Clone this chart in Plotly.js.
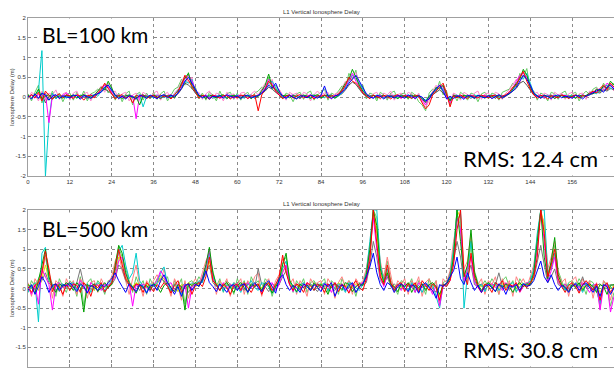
<!DOCTYPE html>
<html>
<head>
<meta charset="utf-8">
<script src="https://cdn.plot.ly/plotly-3.0.1.min.js"></script>
<style>
html,body{margin:0;padding:0;background:#fff;}
#chart{width:614px;height:369px;}
</style>
</head>
<body>
<div id="chart"></div>
<script>
// Time axis (hours)
const hours = [0,1,2,3,4,5,6,7,8,9,10,11,12,13,14,15,16,17,18,19,20,21,22,23,24,25,26,27,28,29,30,31,32,33,34,35,36,37,38,39,40,41,42,43,44,45,46,47,48,49,50,51,52,53,54,55,56,57,58,59,60,61,62,63,64,65,66,67,68,69,70,71,72,73,74,75,76,77,78,79,80,81,82,83,84,85,86,87,88,89,90,91,92,93,94,95,96,97,98,99,100,101,102,103,104,105,106,107,108,109,110,111,112,113,114,115,116,117,118,119,120,121,122,123,124,125,126,127,128,129,130,131,132,133,134,135,136,137,138,139,140,141,142,143,144,145,146,147,148,149,150,151,152,153,154,155,156,157,158,159,160,161,162,163,164,165,166,167,168];

const xTicks = [0,12,24,36,48,60,72,84,96,108,120,132,144,156];
const yTickVals = [2,1.5,1,0.5,0,-0.5,-1,-1.5,-2];
const yTickText = ["2","1.5","1","0.5","0","-0.5","-1","-1.5","-2"];

// ---- BL = 100 km series (m) ----
const top_blue = [
0.02,-0.05,0.08,-0.03,0.10,0.05,-0.08,0.02,0.06,-0.04,0.03,0.00,
-0.02,0.05,0.03,-0.06,0.04,0.01,-0.03,0.05,0.08,0.12,0.25,0.30,
0.18,0.05,-0.04,0.02,-0.05,0.03,0.01,-0.06,0.04,0.02,-0.03,0.05,
0.00,-0.04,0.03,0.06,-0.02,0.04,0.01,0.10,0.22,0.40,0.50,0.35,
0.20,0.05,-0.02,0.03,-0.05,0.02,0.00,0.04,-0.03,0.06,0.02,-0.01,
0.03,-0.04,0.02,0.05,-0.02,0.01,0.04,0.10,0.18,0.30,0.22,0.35,
0.15,0.02,-0.03,0.04,0.00,-0.05,0.03,0.02,-0.02,0.05,0.01,-0.03,
0.04,0.28,0.02,-0.04,0.03,0.05,0.12,0.20,0.35,0.45,0.55,0.40,
0.25,0.08,0.00,-0.03,0.04,0.02,-0.05,0.03,0.01,-0.02,0.04,0.00,
-0.03,0.05,0.02,-0.04,0.03,0.00,-0.10,-0.05,0.10,0.20,0.30,0.15,
-0.05,0.02,-0.04,0.03,0.01,-0.06,0.04,0.02,-0.03,0.05,0.00,-0.02,
0.03,-0.04,0.02,0.06,-0.02,0.04,0.10,0.15,0.25,0.40,0.55,0.45,
0.30,0.10,0.02,-0.03,0.04,0.01,-0.04,0.03,0.05,-0.02,0.02,0.00,
-0.03,0.04,0.02,-0.05,0.03,0.06,0.10,0.15,0.20,0.12,0.25,0.30,
0.20];
const top_red = [
-0.03,0.06,-0.02,0.12,-0.10,0.15,0.04,-0.06,0.03,0.08,-0.02,0.05,
0.03,-0.04,0.06,0.02,-0.08,0.03,0.05,-0.02,0.10,0.20,0.35,0.22,
0.10,-0.05,0.03,0.06,-0.03,0.02,-0.15,0.04,0.01,0.05,-0.04,0.02,
0.04,-0.02,0.05,0.00,0.03,-0.05,0.06,0.15,0.30,0.55,0.42,0.25,
0.12,-0.03,0.04,0.02,-0.06,0.05,0.01,-0.02,0.04,0.03,-0.05,0.02,
-0.02,0.05,0.03,-0.04,0.02,0.06,-0.35,0.05,0.20,0.40,0.30,0.15,
0.05,-0.04,0.02,0.05,-0.03,0.03,0.06,-0.02,0.01,0.04,-0.05,0.03,
0.02,0.05,-0.03,0.04,0.01,0.08,0.15,0.30,0.50,0.40,0.35,0.25,
0.10,0.02,-0.04,0.05,0.01,-0.03,0.04,0.02,-0.05,0.03,0.06,-0.02,
0.04,0.01,-0.03,0.05,0.02,-0.15,-0.30,-0.20,0.05,0.15,0.25,0.35,
0.10,-0.25,0.03,-0.02,0.05,0.01,-0.04,0.03,0.02,-0.03,0.05,0.01,
-0.02,0.04,0.03,-0.05,0.02,0.06,0.12,0.25,0.30,0.50,0.65,0.40,
0.20,0.05,-0.03,0.04,0.02,-0.05,0.03,0.01,-0.02,0.05,0.03,-0.04,
0.02,0.05,-0.03,0.04,0.01,0.08,0.15,0.10,0.22,0.30,0.18,0.35,
0.25];
const top_green = [
0.05,-0.02,0.04,0.20,-0.05,0.02,0.06,-0.04,0.03,0.01,-0.03,0.04,
0.02,0.05,-0.03,0.03,0.06,-0.02,0.02,0.04,0.15,0.25,0.18,0.40,
0.22,0.04,0.02,-0.04,0.03,0.05,-0.02,0.01,-0.20,0.04,0.02,-0.03,
0.05,0.01,-0.04,0.03,0.02,0.05,-0.03,0.12,0.35,0.48,0.60,0.30,
0.15,0.02,0.04,-0.03,0.05,0.01,-0.02,0.03,0.06,-0.04,0.02,0.04,
0.01,-0.03,0.05,0.02,-0.04,0.03,0.02,0.15,0.30,0.58,0.25,0.20,
0.10,0.03,0.05,-0.02,0.04,0.01,-0.03,0.05,0.02,-0.04,0.03,0.06,
-0.02,0.03,0.05,0.01,-0.03,0.04,0.20,0.35,0.45,0.70,0.50,0.30,
0.15,0.05,0.02,0.04,-0.03,0.02,0.05,-0.02,0.03,0.01,-0.04,0.03,
0.02,-0.03,0.05,0.01,0.03,-0.04,-0.12,0.02,0.08,0.25,0.20,0.30,
0.05,-0.10,0.04,0.02,-0.03,0.05,0.01,0.03,-0.02,0.04,0.02,-0.03,
0.04,0.02,-0.03,0.05,0.01,0.03,0.08,0.20,0.35,0.45,0.70,0.55,
0.25,0.08,0.03,-0.02,0.05,0.01,0.03,-0.04,0.02,0.04,-0.02,0.03,
0.01,-0.03,0.05,0.02,0.04,0.10,0.08,0.20,0.15,0.28,0.22,0.40,
0.30];
const top_cyan = [
0.03,-0.04,0.05,0.15,1.20,-2.00,-0.60,0.10,-0.05,0.04,0.02,-0.03,
0.02,0.04,-0.02,0.05,0.01,-0.04,0.03,0.06,0.02,0.15,0.22,0.30,
0.15,0.02,-0.03,0.04,0.01,0.05,-0.02,0.03,0.06,-0.25,0.02,0.04,
-0.03,0.05,0.02,-0.02,0.04,0.01,0.06,0.18,0.25,0.40,0.35,0.45,
0.10,0.04,-0.02,0.05,0.02,-0.03,0.04,0.01,0.03,-0.05,0.04,0.02,
0.05,0.01,-0.03,0.04,0.02,-0.02,0.05,0.10,0.22,0.35,0.40,0.25,
0.08,0.02,-0.04,0.03,0.05,0.01,-0.02,0.04,0.03,-0.03,0.05,0.02,
0.03,-0.02,0.04,0.05,-0.03,0.02,0.10,0.25,0.40,0.55,0.45,0.35,
0.20,0.04,0.01,-0.03,0.05,0.03,-0.02,0.04,0.01,0.05,-0.03,0.02,
0.03,0.05,-0.02,0.04,0.01,-0.05,-0.08,0.03,0.12,0.18,0.25,0.20,
0.02,-0.05,0.03,0.05,-0.02,0.04,0.01,-0.03,0.05,0.02,0.04,-0.02,
0.03,0.05,0.01,-0.03,0.04,0.02,0.10,0.18,0.30,0.50,0.45,0.60,
0.35,0.10,0.04,0.01,-0.03,0.05,0.02,0.04,-0.02,0.03,0.05,0.01,
0.04,-0.02,0.03,0.05,0.02,0.06,0.12,0.08,0.18,0.25,0.30,0.20,
0.28];
const top_magenta = [
0.01,0.04,-0.03,0.06,0.02,0.08,-0.65,0.03,0.05,-0.02,0.04,0.10,
0.03,-0.02,0.05,0.01,0.04,-0.03,0.06,0.02,0.10,0.18,0.30,0.25,
0.12,0.03,0.05,-0.02,0.04,0.02,0.03,-0.55,0.05,0.01,0.04,-0.02,
0.03,0.05,-0.03,0.02,0.04,0.06,-0.02,0.10,0.30,0.45,0.55,0.40,
0.18,0.03,0.01,0.05,-0.02,0.04,0.03,-0.04,0.02,0.05,0.01,-0.03,
0.04,0.02,0.05,-0.03,0.03,0.01,0.05,0.12,0.25,0.45,0.35,0.18,
0.06,0.04,-0.02,0.03,0.05,0.01,-0.04,0.03,0.02,0.06,-0.02,0.04,
0.01,0.05,0.03,-0.02,0.04,0.06,0.15,0.28,0.42,0.60,0.40,0.28,
0.12,0.03,0.05,-0.02,0.02,0.04,0.01,-0.03,0.05,0.02,0.03,-0.04,
0.05,0.02,0.03,-0.02,0.04,-0.08,-0.20,0.01,0.10,0.22,0.30,0.25,
0.00,-0.15,0.05,0.02,0.04,-0.03,0.03,0.05,0.01,-0.02,0.04,0.03,
0.02,0.04,-0.03,0.05,0.03,0.01,0.14,0.22,0.40,0.55,0.60,0.50,
0.28,0.06,0.02,0.05,-0.03,0.03,0.04,0.01,-0.02,0.05,0.03,0.02,
-0.02,0.04,0.03,0.05,0.01,0.10,0.12,0.18,0.15,0.22,0.35,0.28,
0.22];
const top_gray = [
-0.02,0.05,0.03,-0.04,0.08,-0.15,0.02,0.06,-0.03,0.04,0.01,0.05,
-0.03,0.02,0.04,-0.02,0.05,0.03,-0.04,0.02,0.06,0.12,0.20,0.15,
0.08,-0.02,0.04,0.01,-0.03,0.05,0.02,-0.04,0.03,0.06,-0.02,0.01,
0.04,-0.03,0.02,0.05,0.01,-0.02,0.04,0.08,0.20,0.35,0.30,0.22,
0.10,0.01,0.03,-0.04,0.02,0.05,-0.02,0.03,0.01,0.04,-0.03,0.05,
0.02,0.04,-0.02,0.03,0.05,-0.03,0.02,0.08,0.15,0.25,0.20,0.12,
0.04,-0.02,0.03,0.05,0.01,-0.04,0.02,0.04,-0.02,0.03,0.05,0.01,
-0.03,0.04,0.02,0.05,-0.02,0.03,0.08,0.18,0.30,0.38,0.32,0.20,
0.08,0.02,-0.03,0.04,0.01,0.05,-0.02,0.03,0.04,-0.03,0.02,0.05,
0.01,0.03,-0.04,0.02,0.05,-0.06,-0.15,-0.04,0.06,0.12,0.18,0.10,
0.02,-0.08,0.04,0.01,0.03,-0.02,0.05,0.02,-0.04,0.03,0.01,0.04,
-0.02,0.03,0.05,0.01,-0.03,0.04,0.08,0.15,0.22,0.35,0.40,0.30,
0.18,0.05,0.01,0.04,-0.02,0.03,0.05,-0.03,0.02,0.04,0.01,-0.02,
0.03,0.05,-0.02,0.04,0.02,0.06,0.08,0.12,0.10,0.18,0.15,0.22,
0.18];
const top_lightgreen = [
0.08,-0.10,0.12,0.30,-0.15,0.10,-0.08,0.15,-0.05,0.10,-0.12,0.06,
0.10,-0.08,0.12,-0.05,0.15,-0.10,0.08,0.12,0.20,0.15,0.32,0.10,
0.25,-0.08,0.10,-0.12,0.08,0.15,-0.20,0.06,0.12,-0.08,0.10,-0.05,
0.12,-0.06,0.08,0.15,-0.10,0.05,0.20,0.25,0.45,0.30,0.62,0.20,
0.25,-0.05,0.10,-0.08,0.12,0.05,-0.10,0.15,-0.04,0.08,0.12,-0.06,
0.10,-0.08,0.06,0.12,-0.05,0.10,0.15,0.25,0.18,0.50,0.20,0.30,
0.12,-0.05,0.10,0.05,-0.12,0.08,0.12,-0.06,0.10,0.15,-0.08,0.05,
0.12,0.20,-0.08,0.10,0.05,0.15,0.28,0.22,0.60,0.45,0.68,0.20,
0.30,-0.05,0.10,0.06,-0.10,0.12,0.05,-0.08,0.10,0.15,-0.05,0.08,
0.10,-0.06,0.12,0.05,-0.12,-0.20,-0.35,0.10,0.20,0.12,0.40,0.05,
0.15,-0.20,0.08,-0.10,0.12,0.05,-0.08,0.10,0.06,-0.12,0.08,0.12,
-0.05,0.10,0.06,-0.08,0.12,0.15,0.20,0.35,0.25,0.60,0.50,0.72,
0.20,0.15,-0.08,0.10,0.05,-0.10,0.12,0.08,-0.06,0.10,0.15,-0.05,
0.08,0.12,-0.10,0.06,0.15,0.05,0.20,0.25,0.12,0.35,0.20,0.25,
0.35];
const top_pink = [
-0.06,0.12,0.05,-0.10,0.15,-0.08,0.10,0.05,0.18,-0.06,0.08,0.12,
-0.08,0.10,0.15,-0.05,0.08,0.12,-0.10,0.06,0.15,0.28,0.12,0.35,
0.10,0.15,-0.06,0.08,0.12,-0.10,0.05,0.10,-0.08,0.12,0.06,-0.05,
0.10,0.15,-0.08,0.06,0.12,-0.05,0.10,0.20,0.38,0.55,0.35,0.50,
0.10,0.12,-0.06,0.08,0.15,-0.05,0.10,0.06,-0.10,0.12,0.05,0.08,
-0.06,0.10,0.12,-0.05,0.08,0.15,0.05,0.20,0.35,0.28,0.45,0.12,
0.20,0.05,-0.08,0.12,0.06,0.10,-0.05,0.12,0.08,-0.10,0.06,0.15,
0.05,0.10,0.12,-0.06,0.08,0.10,0.22,0.40,0.30,0.52,0.62,0.35,
0.15,0.10,-0.05,0.08,0.12,-0.06,0.10,0.05,0.15,-0.08,0.06,0.10,
-0.05,0.12,0.08,-0.06,0.10,-0.12,-0.25,-0.10,0.15,0.30,0.18,0.28,
0.08,-0.12,0.10,0.05,-0.08,0.12,0.06,-0.05,0.10,0.15,-0.06,0.08,
0.10,-0.05,0.12,0.08,-0.06,0.10,0.18,0.30,0.45,0.35,0.62,0.48,
0.30,0.08,0.12,-0.05,0.10,0.06,-0.08,0.12,0.05,0.10,-0.06,0.08,
0.12,-0.05,0.08,0.10,-0.06,0.15,0.10,0.22,0.18,0.15,0.30,0.32,
0.15];

// ---- BL = 500 km series (m) ----
const bot_blue = [
-0.05,0.10,-0.15,0.05,0.30,0.15,-0.10,0.08,0.12,-0.05,0.10,0.06,
0.15,0.02,-0.08,0.12,0.05,-0.12,0.08,0.03,-0.05,0.10,0.04,0.15,
0.25,0.40,0.20,0.05,-0.10,0.12,0.02,-0.08,0.10,0.05,-0.12,0.06,
0.10,-0.05,0.20,0.35,0.15,0.02,-0.15,0.05,-0.20,0.08,0.12,-0.05,
0.10,0.06,0.20,0.45,0.15,0.05,-0.08,0.12,0.02,-0.10,0.06,0.10,
-0.05,0.08,0.12,-0.10,0.05,0.15,0.02,-0.08,0.10,0.20,0.05,-0.12,
0.25,0.35,0.10,-0.05,0.08,0.02,-0.10,0.12,0.05,-0.06,0.10,0.03,
-0.08,0.12,0.05,0.15,-0.20,0.02,0.10,-0.05,0.08,0.15,-0.10,0.05,
0.12,0.30,0.55,0.90,0.40,0.10,-0.05,0.15,0.08,-0.10,0.05,0.12,
0.02,-0.08,0.10,0.05,-0.12,0.08,0.15,0.02,-0.05,-0.25,0.10,0.05,
0.15,0.30,0.45,0.80,0.25,0.10,0.40,0.15,-0.05,0.08,-0.10,0.05,
0.10,0.02,-0.08,0.12,0.05,-0.15,0.08,0.03,0.10,-0.05,0.12,0.06,
0.08,0.20,0.45,0.70,0.30,0.15,0.35,0.10,-0.05,0.08,0.02,-0.10,
0.05,0.12,-0.05,0.08,0.15,0.02,-0.10,0.06,-0.20,0.10,0.05,-0.15,
0.02];
const bot_red = [
0.05,-0.10,0.08,0.15,0.40,0.95,0.50,-0.08,0.12,0.05,-0.15,0.10,
-0.05,0.12,0.08,-0.10,0.15,0.05,-0.20,0.10,0.02,0.15,-0.08,0.05,
0.15,0.50,1.00,0.60,0.25,0.10,-0.05,0.12,0.08,-0.10,0.15,0.05,
-0.08,0.10,0.02,0.15,0.06,-0.12,0.08,0.20,-0.10,0.05,0.12,-0.15,
0.08,0.15,0.05,0.30,0.80,0.20,0.10,-0.05,0.12,0.02,-0.15,0.08,
0.10,-0.05,0.15,0.02,-0.10,0.08,0.12,-0.15,0.05,0.15,-0.05,0.10,
0.30,0.85,0.40,0.10,-0.05,0.12,0.05,-0.10,0.15,0.08,-0.05,0.12,
0.05,-0.10,0.12,0.02,0.15,-0.08,0.10,0.05,-0.12,0.08,0.20,0.02,
-0.05,0.25,0.70,2.00,1.20,0.30,0.10,0.60,0.15,-0.05,0.10,0.15,
-0.08,0.12,0.05,0.15,-0.10,0.20,0.08,-0.05,0.12,0.02,-0.30,0.10,
0.05,0.20,0.60,1.50,2.00,0.40,0.10,0.90,0.30,0.05,-0.10,0.12,
0.05,-0.10,0.15,0.08,0.20,-0.05,0.12,0.05,0.15,-0.08,0.10,0.02,
0.15,0.30,0.80,2.00,1.40,0.30,0.60,1.00,0.25,0.05,-0.10,0.08,
0.15,0.05,-0.12,0.10,0.20,0.08,-0.05,0.12,-0.30,0.05,0.15,-0.10,
0.05];
const bot_green = [
0.10,0.02,-0.12,0.20,0.60,1.00,0.30,0.05,-0.10,0.12,0.05,0.15,
0.08,-0.05,0.15,0.02,-0.60,0.10,0.05,0.12,-0.08,0.05,0.15,0.02,
0.10,0.60,1.10,0.90,0.40,0.15,0.05,-0.12,0.10,0.02,0.08,-0.05,
0.12,0.05,-0.10,0.08,0.15,0.02,-0.08,0.10,0.05,-0.55,0.12,0.08,
0.15,0.05,0.25,0.60,1.05,0.40,0.10,-0.05,0.08,0.15,0.02,-0.10,
0.08,0.15,0.02,-0.08,0.12,0.05,0.10,-0.05,0.15,0.08,-0.12,0.05,
0.20,0.60,0.90,0.20,0.05,-0.08,0.12,0.02,0.10,-0.05,0.15,0.05,
0.10,0.02,-0.15,0.08,0.12,0.05,-0.05,0.15,0.10,-0.08,0.05,0.12,
0.08,0.35,1.00,2.00,1.60,0.50,0.15,0.40,0.10,0.05,-0.08,0.12,
0.05,0.15,-0.10,0.08,0.02,0.12,-0.05,0.10,0.15,0.05,-0.15,0.08,
0.12,0.25,0.80,2.00,1.20,0.30,0.60,1.50,0.40,0.10,-0.05,0.08,
0.15,0.05,-0.08,0.10,0.02,0.12,0.05,-0.10,0.08,0.15,0.05,0.12,
0.10,0.40,1.20,2.00,0.80,0.25,0.70,1.30,0.35,0.10,0.05,-0.08,
0.10,0.02,0.15,-0.05,0.08,0.12,0.05,-0.10,0.10,0.05,-0.15,0.08,
0.10];
const bot_cyan = [
-0.10,0.05,0.15,-0.85,0.90,1.05,0.20,0.10,-0.05,0.08,0.12,0.02,
0.10,0.15,-0.05,0.08,0.02,0.12,-0.10,0.05,0.15,0.08,-0.05,0.10,
0.20,0.45,0.95,1.10,0.60,0.25,0.40,0.90,0.20,0.05,-0.10,0.12,
0.05,0.15,0.40,0.55,0.10,-0.05,0.12,0.02,-0.15,0.10,0.05,0.15,
0.08,0.20,0.15,0.50,0.90,0.30,0.05,0.12,-0.08,0.10,0.02,0.15,
0.05,-0.10,0.12,0.08,0.20,0.02,-0.05,0.15,0.10,0.05,-0.12,0.08,
0.15,0.50,0.70,0.15,0.05,-0.10,0.08,0.15,0.02,0.10,-0.05,0.12,
0.08,0.15,-0.05,0.10,0.02,0.12,0.05,-0.10,0.15,0.08,0.02,-0.05,
0.10,0.40,1.20,2.00,2.00,0.60,0.20,0.50,0.10,-0.05,0.12,0.05,
0.10,-0.05,0.15,0.02,0.08,-0.10,0.12,0.05,0.10,-0.20,-0.50,0.10,
0.05,0.30,1.00,2.00,2.00,-0.50,0.40,1.20,0.20,0.05,0.10,-0.08,
0.12,0.05,0.15,-0.05,0.08,0.02,0.10,0.15,-0.08,0.05,0.12,0.10,
0.20,0.50,1.40,2.00,2.00,0.40,0.50,0.90,0.20,0.08,-0.05,0.12,
0.05,0.15,0.08,-0.10,0.12,0.02,0.10,-0.05,-0.40,0.08,0.12,0.05,
-0.05];
const bot_magenta = [
0.05,-0.15,0.10,-0.40,0.50,0.30,0.10,-0.55,0.08,0.15,0.02,0.10,
0.05,0.12,0.02,0.20,0.08,-0.10,0.15,0.05,0.10,-0.05,0.12,0.08,
0.15,0.30,0.70,0.80,0.35,0.15,-0.45,0.10,0.05,0.12,0.02,-0.08,
0.10,0.20,0.45,0.30,0.08,0.15,-0.05,0.12,0.02,0.10,-0.50,0.05,
0.12,0.05,0.30,0.55,1.00,0.25,0.08,-0.05,0.15,0.02,0.10,0.05,
0.12,-0.05,0.08,0.15,0.02,0.10,0.05,-0.10,0.12,0.08,0.15,-0.05,
0.10,0.40,0.60,0.10,-0.08,0.12,0.05,0.02,0.15,-0.05,0.10,0.08,
0.02,0.12,0.08,-0.10,0.15,0.05,0.10,0.02,-0.08,0.12,0.05,0.10,
0.15,0.20,0.90,1.80,1.00,0.30,0.05,0.35,0.12,0.02,0.10,-0.05,
0.12,0.05,0.08,-0.10,0.15,0.02,0.10,0.05,-0.15,0.08,-0.45,0.05,
0.10,0.20,0.70,1.80,1.50,0.20,0.50,0.80,0.15,0.02,-0.10,0.10,
0.08,0.12,0.02,0.10,-0.05,0.15,0.05,0.08,0.12,-0.10,0.05,0.15,
0.12,0.35,1.00,2.00,1.20,0.20,0.45,0.80,0.15,0.05,0.10,-0.05,
0.08,0.12,0.02,0.15,0.05,-0.10,0.08,0.12,-0.55,0.05,0.10,-0.60,
-0.20];
const bot_gray = [
0.02,0.08,-0.05,0.12,0.20,0.40,0.15,0.05,0.10,-0.08,0.05,0.12,
0.08,0.02,0.15,0.50,0.10,0.05,-0.05,0.12,0.08,0.02,-0.10,0.06,
0.10,0.25,0.60,0.50,0.20,0.08,0.02,0.12,-0.05,0.10,0.05,0.02,
0.08,0.12,0.25,0.20,0.05,-0.08,0.10,0.02,0.06,0.12,-0.10,0.05,
0.10,0.15,0.20,0.40,0.60,0.15,0.05,0.10,-0.05,0.08,0.12,0.02,
0.06,0.10,-0.05,0.12,0.08,0.02,0.50,0.10,0.05,-0.08,0.12,0.06,
0.10,0.30,0.45,0.12,0.02,0.08,-0.05,0.10,0.06,0.12,0.02,-0.08,
0.10,0.05,0.12,0.02,-0.05,0.08,0.12,0.05,0.02,0.10,-0.10,0.06,
0.08,0.15,0.60,1.20,0.80,0.20,0.10,0.30,0.05,0.12,0.02,0.08,
0.05,0.10,0.02,0.12,-0.05,0.08,0.05,0.10,0.02,-0.10,0.05,0.12,
0.08,0.40,0.70,1.20,0.80,0.15,0.30,0.60,0.10,0.05,0.12,-0.05,
0.10,0.02,0.08,0.40,0.05,0.12,-0.05,0.08,0.10,0.02,0.12,0.05,
0.10,0.25,0.70,1.10,0.60,0.15,0.30,0.50,0.10,0.05,0.12,0.02,
0.08,0.12,0.05,0.30,0.02,0.10,-0.05,0.08,0.12,0.02,0.05,0.10,
0.08];
const bot_yellow = [
0.10,0.05,0.15,-0.05,0.25,0.60,0.20,0.08,0.12,0.02,0.10,0.05,
0.12,0.08,0.02,0.10,0.15,0.05,0.08,-0.05,0.12,0.10,0.02,0.08,
0.12,0.35,0.80,0.70,0.30,0.10,0.05,0.15,0.08,0.02,0.10,0.05,
0.08,0.15,0.30,0.25,0.10,0.05,0.12,-0.08,0.10,0.05,0.15,0.08,
0.05,0.10,0.20,0.45,0.70,0.20,0.08,0.12,0.02,0.10,0.05,0.12,
0.08,0.02,0.10,0.15,0.05,0.12,0.08,0.02,0.10,0.15,0.05,0.10,
0.15,0.45,0.55,0.12,0.05,0.10,0.02,0.12,0.08,0.05,0.10,0.02,
0.12,0.08,0.05,0.10,0.02,0.15,0.08,0.05,0.10,0.02,0.12,0.08,
0.10,0.30,0.80,2.00,1.50,0.40,0.12,0.45,0.08,0.05,0.10,0.02,
0.08,0.12,0.05,0.10,0.02,0.08,0.12,0.05,0.10,0.02,-0.20,0.08,
0.10,0.25,0.90,2.00,1.80,0.30,0.45,1.10,0.20,0.08,0.05,0.10,
0.05,0.10,0.08,0.02,0.12,0.05,0.10,0.08,0.02,0.12,0.05,0.10,
0.08,0.30,1.10,2.00,1.60,0.30,0.55,0.90,0.15,0.08,0.02,0.10,
0.05,0.10,0.12,0.02,0.08,0.10,0.05,0.12,-0.10,0.08,0.05,0.02,
0.05];
const bot_salmon = [
0.15,-0.20,0.25,0.10,0.35,0.80,0.30,-0.25,0.20,0.10,-0.20,0.25,
0.05,0.20,-0.15,0.25,0.10,-0.25,0.15,0.20,-0.10,0.25,0.05,0.15,
0.30,0.70,0.90,0.45,0.20,-0.15,0.25,0.60,0.10,-0.20,0.20,0.05,
0.20,0.35,0.15,0.50,0.10,-0.20,0.25,0.05,-0.30,0.20,-0.25,0.10,
0.25,0.10,0.40,0.70,0.90,0.35,-0.15,0.20,0.05,0.25,-0.20,0.15,
0.10,0.25,-0.15,0.20,0.05,0.30,0.40,-0.20,0.15,0.25,-0.10,0.20,
0.35,0.75,0.50,0.10,0.25,-0.15,0.20,0.05,-0.20,0.25,0.10,0.15,
0.20,-0.15,0.25,0.10,-0.25,0.15,0.30,0.05,0.20,-0.15,0.25,0.10,
0.20,0.50,1.10,1.90,1.40,0.70,0.25,0.80,0.30,-0.10,0.20,0.10,
0.25,-0.15,0.20,0.05,0.30,-0.20,0.15,0.25,-0.10,0.20,-0.40,0.25,
0.15,0.45,1.20,1.70,1.90,0.50,0.70,1.40,0.35,0.10,0.25,-0.15,
0.20,0.10,0.30,-0.15,0.25,0.05,0.20,-0.20,0.30,0.10,0.25,0.05,
0.30,0.60,1.30,1.90,1.70,0.50,0.80,1.20,0.40,0.15,0.25,-0.20,
0.20,0.30,-0.10,0.25,0.05,0.20,-0.25,0.15,-0.50,0.20,0.10,-0.30,
0.10];
const bot_lightgreen = [
-0.10,0.20,0.05,0.25,0.45,0.85,0.40,0.10,-0.20,0.25,0.05,-0.10,
0.20,0.10,-0.20,0.30,-0.45,0.15,0.25,-0.05,0.20,0.10,-0.15,0.20,
0.15,0.55,1.05,0.80,0.50,0.20,-0.10,0.30,0.05,0.20,-0.15,0.25,
0.05,0.25,0.35,0.15,0.30,-0.10,0.20,0.05,0.25,-0.40,0.15,0.20,
0.10,0.30,0.15,0.55,0.85,0.45,0.05,0.25,-0.10,0.20,0.10,-0.15,
0.25,0.05,0.20,-0.15,0.30,0.10,0.20,-0.05,0.25,0.15,-0.20,0.10,
0.25,0.65,0.80,0.25,-0.10,0.20,0.05,0.25,-0.10,0.15,0.20,0.05,
0.15,0.25,-0.10,0.20,0.10,-0.15,0.25,0.05,0.20,0.10,-0.20,0.15,
0.10,0.45,0.95,2.00,1.80,0.55,0.30,0.70,0.20,0.05,-0.15,0.20,
0.15,0.05,0.25,-0.10,0.20,0.10,-0.15,0.25,0.05,0.20,-0.35,0.15,
0.20,0.35,1.00,1.90,1.60,0.35,0.55,1.30,0.45,0.15,0.05,0.20,
0.05,0.25,0.10,-0.15,0.20,0.30,0.05,0.20,-0.10,0.25,0.10,0.15,
0.15,0.45,1.25,2.00,1.50,0.40,0.65,1.10,0.45,0.20,-0.05,0.15,
0.20,0.05,0.25,0.10,-0.15,0.20,0.15,-0.05,-0.35,0.20,0.05,-0.45,
-0.10];

const topSeries = [
  {y: top_lightgreen, c: '#66cc66'},
  {y: top_pink, c: '#ff88cc'},
  {y: top_gray, c: '#555555'},
  {y: top_cyan, c: '#00cccc'},
  {y: top_magenta, c: '#ff00ff'},
  {y: top_green, c: '#00a000'},
  {y: top_red, c: '#ff0000'},
  {y: top_blue, c: '#0000ff'}
];
const botSeries = [
  {y: bot_lightgreen, c: '#66cc66'},
  {y: bot_salmon, c: '#ff8080'},
  {y: bot_gray, c: '#777777'},
  {y: bot_yellow, c: '#e0e000'},
  {y: bot_cyan, c: '#00cccc'},
  {y: bot_magenta, c: '#ff00ff'},
  {y: bot_green, c: '#00a000'},
  {y: bot_red, c: '#ff0000'},
  {y: bot_blue, c: '#0000ff'}
];
[...topSeries, ...botSeries].forEach((s, i) => {
  if (s.y.length !== hours.length) throw new Error('series ' + i + ' length ' + s.y.length);
});

const traces = [];
topSeries.forEach(s => traces.push({x: hours, y: s.y, type: 'scatter', mode: 'lines',
  line: {color: s.c, width: 1}, xaxis: 'x', yaxis: 'y', hoverinfo: 'skip'}));
botSeries.forEach(s => traces.push({x: hours, y: s.y, type: 'scatter', mode: 'lines',
  line: {color: s.c, width: 1}, xaxis: 'x2', yaxis: 'y2', hoverinfo: 'skip'}));

const W = 614, H = 369;
function px(x){ return x / W; }
function py(y){ return 1 - y / H; }

const tickFont = {family: 'Liberation Sans, Arial, sans-serif', size: 6, color: '#333'};
function xAxis(anchor, showLabels){
  return {domain: [px(28), 1], range: [0, 168], anchor: anchor,
    tickvals: xTicks, ticktext: xTicks.map(String), tickfont: tickFont,
    showticklabels: showLabels,
    showgrid: true, gridcolor: '#8a8a8a', griddash: 'dot', gridwidth: 1,
    ticks: 'inside', ticklen: 3, tickcolor: '#888',
    showline: true, linecolor: '#a0a0a0', linewidth: 1, mirror: true,
    zeroline: false, fixedrange: true};
}
function yAxis(anchor, d){
  return {domain: d, range: [-2, 2], anchor: anchor,
    tickvals: yTickVals, ticktext: yTickText, tickfont: tickFont,
    showgrid: true, gridcolor: '#8a8a8a', griddash: 'dot', gridwidth: 1,
    ticks: 'inside', ticklen: 3, tickcolor: '#888',
    showline: true, linecolor: '#a0a0a0', linewidth: 1, mirror: true,
    zeroline: false, fixedrange: true};
}

const bigFont = {family: 'Lato, Open Sans, sans-serif', size: 21, color: '#000'};
const rmsFont = {family: 'Lato, Open Sans, sans-serif', size: 22, color: '#000'};
const smallFont = {family: 'Liberation Sans, Arial, sans-serif', size: 6, color: '#333'};

const layout = {
  width: W, height: H,
  margin: {l: 0, r: 0, t: 0, b: 0},
  paper_bgcolor: '#fff', plot_bgcolor: '#fff',
  showlegend: false,
  xaxis: xAxis('y', true),
  yaxis: yAxis('x', [py(176), py(18)]),
  xaxis2: xAxis('y2', false),
  yaxis2: yAxis('x2', [py(367), py(210)]),
  annotations: [
    {text: 'L1 Vertical Ionosphere Delay', xref: 'paper', yref: 'paper', x: px(321), y: py(12),
      xanchor: 'center', yanchor: 'middle', showarrow: false, font: smallFont},
    {text: 'L1 Vertical Ionosphere Delay', xref: 'paper', yref: 'paper', x: px(321), y: py(204),
      xanchor: 'center', yanchor: 'middle', showarrow: false, font: smallFont},
    {text: 'Ionosphere Delay (m)', xref: 'paper', yref: 'paper', x: px(12), y: py(97),
      xanchor: 'center', yanchor: 'middle', textangle: -90, showarrow: false, font: smallFont},
    {text: 'Ionosphere Delay (m)', xref: 'paper', yref: 'paper', x: px(12), y: py(288),
      xanchor: 'center', yanchor: 'middle', textangle: -90, showarrow: false, font: smallFont},
    {text: 'BL=100 km', xref: 'paper', yref: 'paper', x: px(95), y: py(34),
      xanchor: 'center', yanchor: 'middle', showarrow: false, font: bigFont,
      bgcolor: '#fff', borderpad: 3},
    {text: 'BL=500 km', xref: 'paper', yref: 'paper', x: px(95), y: py(228),
      xanchor: 'center', yanchor: 'middle', showarrow: false, font: bigFont,
      bgcolor: '#fff', borderpad: 3},
    {text: 'RMS: 12.4 cm', xref: 'paper', yref: 'paper', x: px(530), y: py(158),
      xanchor: 'center', yanchor: 'middle', showarrow: false, font: rmsFont,
      bgcolor: '#fff', borderpad: 3},
    {text: 'RMS: 30.8 cm', xref: 'paper', yref: 'paper', x: px(530), y: py(349),
      xanchor: 'center', yanchor: 'middle', showarrow: false, font: rmsFont,
      bgcolor: '#fff', borderpad: 3}
  ]
};

Plotly.newPlot('chart', traces, layout, {staticPlot: true, displayModeBar: false});
</script>
</body>
</html>
